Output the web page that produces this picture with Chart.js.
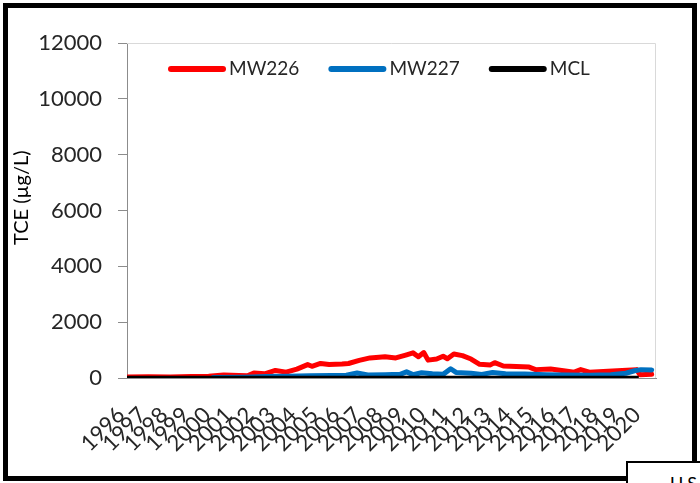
<!DOCTYPE html>
<html>
<head>
<meta charset="utf-8">
<script src="https://cdn.jsdelivr.net/npm/chart.js@4.4.1/dist/chart.umd.min.js"></script>
<style>
  body { margin: 0; background: #fff; }
  #wrap { position: relative; width: 700px; height: 483px; overflow: hidden; }
  #frame { position: absolute; left: 3px; top: 3px; width: 694px; height: 478px; box-sizing: border-box; border: 5px solid #000; pointer-events: none; }
  #note { position: absolute; left: 626px; top: 461px; width: 120px; height: 40px; box-sizing: border-box; border: 2px solid #000; background: #fff; font: 18px Lato, sans-serif; padding: 9px 0 0 42px; white-space: nowrap; }
</style>
</head>
<body>
<div id="wrap">
  <canvas id="chart" width="700" height="483"></canvas>
  <div id="frame"></div>
  <div id="note">U.S. EPA</div>
</div>
<script>
// sampling dates (decimal years) and TCE values in ug/L
const yearTicks = [1996, 1997, 1998, 1999, 2000, 2001, 2002, 2003, 2004, 2005, 2006, 2007, 2008,
  2009, 2010, 2011, 2012, 2013, 2014, 2015, 2016, 2017, 2018, 2019, 2020];

const mw226Dates = [1996.0, 1997.0, 1998.0, 1999.0, 1999.8, 2000.5, 2001.2, 2001.6, 2001.9, 2002.4,
  2002.9, 2003.4, 2003.9, 2004.4, 2004.6, 2005.0, 2005.4, 2006.0, 2006.3, 2006.8, 2007.3, 2008.0,
  2008.5, 2009.0, 2009.3, 2009.55, 2009.8, 2010.0, 2010.4, 2010.7, 2010.9, 2011.2, 2011.6, 2012.0,
  2012.4, 2012.9, 2013.1, 2013.5, 2014.7, 2015.0, 2015.7, 2016.3, 2016.8, 2017.1, 2017.5, 2018.8,
  2019.7, 2019.85, 2020.4];
const mw226Values = [40, 45, 40, 50, 60, 110, 90, 80, 180, 150,
  270, 210, 320, 480, 420, 520, 480, 500, 520, 630, 720, 760,
  720, 830, 900, 760, 910, 640, 680, 780, 690, 860, 800, 680,
  490, 470, 550, 430, 390, 300, 320, 260, 210, 300, 210, 260,
  300, 120, 130];

const mw227Dates = [2000.0, 2001.5, 2002.5, 2003.5, 2004.5, 2005.5, 2006.2, 2006.7, 2007.2, 2008.0,
  2008.7, 2009.0, 2009.3, 2009.7, 2010.2, 2010.7, 2011.05, 2011.3, 2012.0, 2012.5, 2013.0, 2013.6,
  2014.5, 2015.5, 2016.5, 2017.5, 2018.5, 2019.2, 2019.6, 2019.9, 2020.4];
const mw227Values = [20, 30, 50, 60, 80, 90, 100, 180, 110, 120,
  130, 220, 120, 190, 150, 130, 330, 200, 170, 130, 200, 150,
  140, 120, 110, 100, 120, 170, 260, 300, 290];

const mclDates = [1996.0, 2019.8];
const mclValues = [5, 5];

const yTicks = [0, 2000, 4000, 6000, 8000, 10000, 12000];

function toPoints(dates, values) {
  return dates.map((d, i) => ({ x: d, y: values[i] }));
}

const font = "Lato, 'Open Sans', sans-serif";

// legend drawn inside the plot area, like the original
const insideLegend = {
  id: "insideLegend",
  afterDraw(chart) {
    const ctx = chart.ctx;
    const y = 69;
    let x = 168;
    ctx.save();
    ctx.font = "19px " + font;
    ctx.textBaseline = "middle";
    ctx.fillStyle = "#262626";
    chart.data.datasets.forEach((ds) => {
      ctx.strokeStyle = ds.borderColor;
      ctx.lineWidth = 6;
      ctx.lineCap = "round";
      ctx.beginPath();
      ctx.moveTo(x + 3, y);
      ctx.lineTo(x + 55, y);
      ctx.stroke();
      ctx.fillText(ds.label, x + 61, y);
      x += 61 + ctx.measureText(ds.label).width + 29;
    });
    ctx.restore();
  },
};

// light grey top/right edges of the plot area
const plotEdge = {
  id: "plotEdge",
  beforeDatasetsDraw(chart) {
    const { ctx, chartArea: a } = chart;
    ctx.save();
    ctx.strokeStyle = "#d9d9d9";
    ctx.lineWidth = 1;
    ctx.beginPath();
    ctx.moveTo(a.left, a.top + 0.5);
    ctx.lineTo(a.right - 0.5, a.top + 0.5);
    ctx.lineTo(a.right - 0.5, a.bottom);
    ctx.stroke();
    ctx.restore();
  },
};

const ctx = document.getElementById("chart").getContext("2d");
new Chart(ctx, {
  type: "line",
  data: {
    datasets: [
      {
        label: "MW226",
        data: toPoints(mw226Dates, mw226Values),
        borderColor: "#ff0000",
        borderWidth: 5,
        borderCapStyle: "round",
        borderJoinStyle: "round",
        pointRadius: 0,
        order: 3,
      },
      {
        label: "MW227",
        data: toPoints(mw227Dates, mw227Values),
        borderColor: "#0070c0",
        borderWidth: 5,
        borderCapStyle: "round",
        borderJoinStyle: "round",
        pointRadius: 0,
        order: 2,
      },
      {
        label: "MCL",
        data: toPoints(mclDates, mclValues),
        borderColor: "#000000",
        borderWidth: 4,
        pointRadius: 0,
        order: 1,
      },
    ],
  },
  options: {
    responsive: false,
    animation: false,
    layout: { padding: { left: 0, top: 43, right: 44, bottom: 0 } },
    plugins: {
      legend: { display: false },
      tooltip: { enabled: false },
    },
    scales: {
      x: {
        type: "linear",
        min: 1996,
        max: 2020.6,
        afterFit: (scale) => { scale.height = 105; },
        grid: { display: false, drawTicks: false },
        border: { display: true, color: "#8c8c8c", width: 1 },
        ticks: {
          stepSize: 1,
          includeBounds: false,
          autoSkip: false,
          minRotation: 45,
          maxRotation: 45,
          padding: 24,
          labelOffset: -6,
          color: "#262626",
          font: { family: font, size: 22 },
          callback: (v) => (yearTicks.includes(v) ? String(v) : ""),
        },
      },
      y: {
        min: 0,
        max: 12000,
        afterFit: (scale) => { scale.width = 127; },
        grid: { drawOnChartArea: false, drawTicks: true, tickLength: 9, color: "#8c8c8c" },
        border: { display: true, color: "#8c8c8c", width: 1 },
        afterBuildTicks: (scale) => { scale.ticks = yTicks.map((v) => ({ value: v })); },
        ticks: {
          padding: 16,
          color: "#262626",
          font: { family: font, size: 22 },
          callback: (v) => String(v),
        },
        title: {
          display: true,
          text: "     TCE (µg/L)",
          color: "#000",
          padding: { top: 10, bottom: 0 },
          font: { family: font, size: 20 },
        },
      },
    },
  },
  plugins: [plotEdge, insideLegend],
});
</script>
</body>
</html>
